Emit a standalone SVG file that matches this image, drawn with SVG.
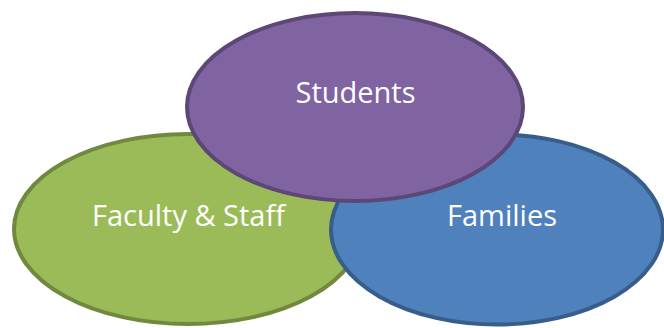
<svg xmlns="http://www.w3.org/2000/svg" width="664" height="328" viewBox="0 0 664 328">
<style>
.lbl{font-family:"Open Sans","Noto Sans",sans-serif;font-size:29px;fill:#ffffff;text-anchor:middle}
ellipse{stroke-width:4}
</style>
<rect width="664" height="328" fill="#ffffff"/>
<g id="connectors"></g>
<g id="faculty">
<ellipse cx="188" cy="229" rx="174" ry="95" fill="#9BBB59" stroke="#71893F"/>
<text class="lbl" x="188.5" y="226">Faculty &amp; Staff</text>
</g>
<g id="families">
<ellipse cx="497" cy="229.5" rx="166" ry="95" fill="#4F81BD" stroke="#385D8A"/>
<text class="lbl" x="502" y="226">Families</text>
</g>
<g id="students">
<ellipse cx="355" cy="107" rx="168" ry="94" fill="#8064A2" stroke="#5C4776"/>
<text class="lbl" x="355.5" y="103">Students</text>
</g>
</svg>
